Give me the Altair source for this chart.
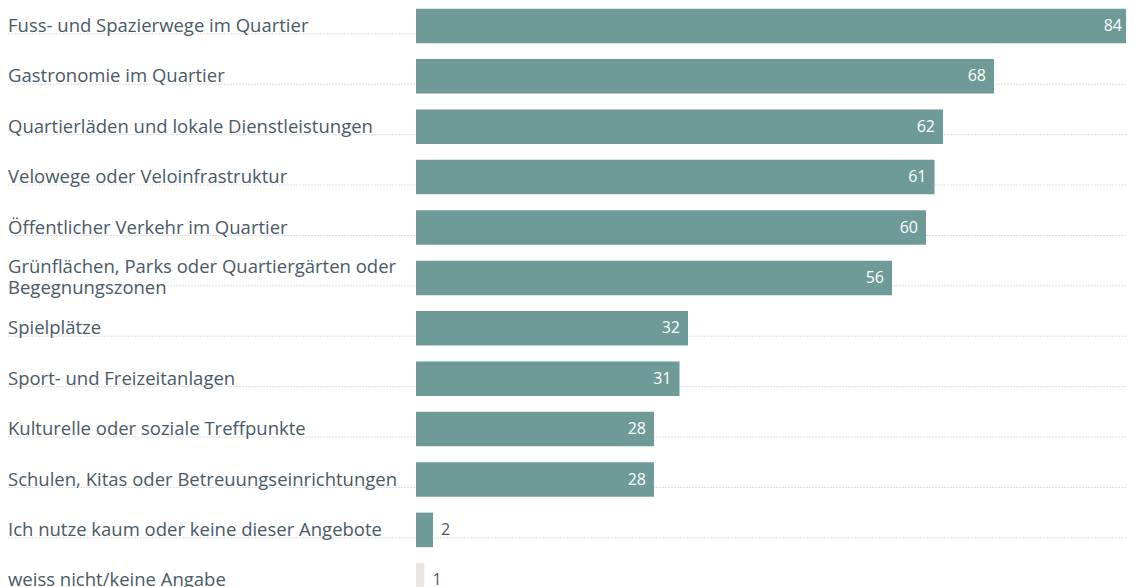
import altair as alt
import pandas as pd

labels = [
    "Fuss- und Spazierwege im Quartier",
    "Gastronomie im Quartier",
    "Quartierläden und lokale Dienstleistungen",
    "Velowege oder Veloinfrastruktur",
    "Öffentlicher Verkehr im Quartier",
    "Grünflächen, Parks oder Quartiergärten oder\nBegegnungszonen",
    "Spielplätze",
    "Sport- und Freizeitanlagen",
    "Kulturelle oder soziale Treffpunkte",
    "Schulen, Kitas oder Betreuungseinrichtungen",
    "Ich nutze kaum oder keine dieser Angebote",
    "weiss nicht/keine Angabe",
]
values = [84, 68, 62, 61, 60, 56, 32, 31, 28, 28, 2, 1]
special = "weiss nicht/keine Angabe"

df = pd.DataFrame({"label": labels, "value": values})

FONT = "Open Sans"
TEXT = "#4a5966"
BAR = "#6e9a97"
BAR2 = "#ece6e3"

yscale = alt.Scale(range=[-7.3, 597.5], paddingInner=0.315, paddingOuter=0.1575)
xscale = alt.Scale(domain=[0, 84], range=[0, 714], nice=False)

Y = alt.Y("label:N", sort=None, axis=None, scale=yscale)
X = alt.X("value:Q", axis=None, scale=xscale)

base = alt.Chart(df)

sep = base.mark_rule(color="#dedede", strokeDash=[2, 1], strokeWidth=1).encode(
    y=Y,
    yOffset=alt.value(-25.2),
    x=alt.value(-408),
    x2=alt.value(730),
)

bars = base.mark_bar().encode(
    y=Y,
    x=X,
    color=alt.condition(alt.datum.label == special, alt.value(BAR2), alt.value(BAR)),
)

is_multi = "indexof(datum.label, '\\n') >= 0"
is_single = "indexof(datum.label, '\\n') < 0"

cat_text_1 = base.transform_filter(is_single).mark_text(
    align="left", baseline="middle", font=FONT, fontSize=18.5, color=TEXT,
).encode(y=Y, x=alt.value(-408), text="label:N")

cat_text_2 = base.transform_filter(is_multi).mark_text(
    align="left", baseline="middle", font=FONT, fontSize=18.5, color=TEXT,
    lineBreak="\n", lineHeight=21, dy=-10.5,
).encode(y=Y, x=alt.value(-408), text="label:N")

val_in = base.transform_filter(alt.datum.value >= 10).mark_text(
    align="right", baseline="middle", dx=-8, font=FONT, fontSize=16, color="white"
).encode(y=Y, x=X, text="value:Q")

val_out = base.transform_filter(alt.datum.value < 10).mark_text(
    align="left", baseline="middle", dx=8, font=FONT, fontSize=16, color=TEXT
).encode(y=Y, x=X, text="value:Q")

chart = alt.layer(sep, bars, cat_text_1, cat_text_2, val_in, val_out).properties(
    width=710,
    height=579,
    autosize=alt.AutoSizeParams(type="none"),
    padding={"left": 408, "top": 0, "right": 0, "bottom": 0},
).configure_view(stroke=None)

chart.save("out.html", embed_options={"renderer": "svg", "actions": False})
